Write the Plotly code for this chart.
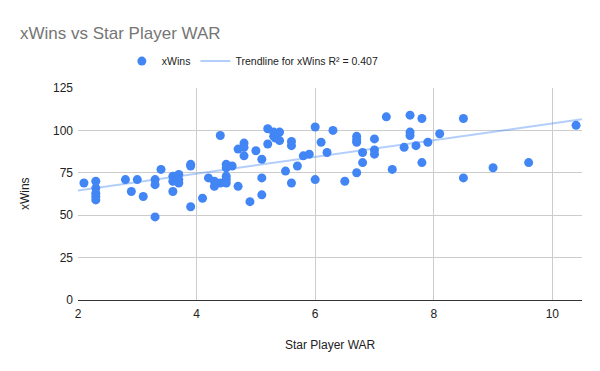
import numpy as np
import plotly.graph_objects as go

war = [2.1, 2.3, 2.3, 2.3, 2.3, 2.3, 2.8, 2.9, 3.0, 3.1, 3.3, 3.3, 3.3, 3.4,
       3.6, 3.6, 3.6, 3.67, 3.7, 3.7, 3.7, 3.9, 3.9, 3.9, 4.1, 4.2, 4.3, 4.3,
       4.4, 4.4, 4.5, 4.5, 4.5, 4.5, 4.5, 4.6, 4.7, 4.7, 4.8, 4.8, 4.8, 4.9,
       5.0, 5.1, 5.1, 5.1, 5.2, 5.2, 5.3, 5.3, 5.33, 5.4, 5.4, 5.5, 5.6, 5.6,
       5.6, 5.7, 5.8, 5.9, 6.0, 6.0, 6.1, 6.2, 6.3, 6.5, 6.7, 6.7, 6.7, 6.7,
       6.8, 6.8, 7.0, 7.0, 7.0, 7.2, 7.3, 7.5, 7.6, 7.6, 7.6, 7.7, 7.8, 7.8,
       7.9, 8.1, 8.5, 8.5, 9.0, 9.6, 10.4]
xwins = [69, 70, 66, 63, 61, 59, 71, 64, 71, 61, 71, 68, 49, 77,
         64, 73, 70, 72, 74, 71, 69, 80, 79, 55, 60, 72, 70, 67,
         97, 69, 80, 78, 73, 71, 69, 79, 89, 67, 92.5, 90, 85, 58,
         88, 83, 72, 62, 101, 92, 99, 96.5, 95.5, 99, 94, 76, 93.5, 91,
         69, 79, 85, 86, 102, 71, 93, 87, 100, 70, 96.5, 94.5, 93, 75,
         87, 81, 95, 88.5, 86, 108, 77, 90, 109, 99, 97, 91, 107, 81,
         93, 98, 107, 72, 78, 81, 103]

x_ticks = [2, 4, 6, 8, 10]
y_ticks = [0, 25, 50, 75, 100, 125]
x_range = [2, 10.5]

slope, intercept = np.polyfit(war, xwins, 1)
tx = np.array(x_range)
ty = slope * tx + intercept

blue = "#4285F4"
fig = go.Figure()
fig.add_trace(go.Scatter(x=war, y=xwins, mode="markers", name="xWins",
                         marker=dict(color=blue, size=9, line=dict(width=0))))
fig.add_trace(go.Scatter(x=tx, y=ty, mode="lines",
                         name="Trendline for xWins R² = 0.407",
                         line=dict(color="rgba(66,133,244,0.4)", width=2)))

txt = "#222222"
fig.update_layout(
    width=600, height=371,
    paper_bgcolor="white", plot_bgcolor="white",
    font=dict(family="Arial, Liberation Sans, sans-serif", size=12, color=txt),
    margin=dict(l=70, r=26, t=80, b=79, autoexpand=False),
    showlegend=True,
    legend=dict(orientation="h", x=0.087, xanchor="left", y=1.127, yanchor="middle",
                font=dict(size=10.5, color=txt), itemwidth=30, tracegroupgap=0),
    xaxis=dict(range=x_range, tickvals=x_ticks, showgrid=True, gridcolor="#cccccc",
               zeroline=False, showline=False, ticks="", automargin=False,
               ticklabelstandoff=5,
               tickfont=dict(size=12, color=txt)),
    yaxis=dict(range=[0, 125], tickvals=y_ticks, showgrid=True, gridcolor="#cccccc",
               zeroline=True, zerolinecolor="#333333", zerolinewidth=1,
               showline=False, ticks="", automargin=False,
               ticklabelstandoff=4,
               tickfont=dict(size=12, color=txt)),
    annotations=[
        dict(text="xWins vs Star Player WAR", xref="paper", yref="paper",
             x=-0.12, y=1.259, xanchor="left", yanchor="middle", showarrow=False,
             font=dict(size=17, color="#757575")),
        dict(text="Star Player WAR", xref="paper", yref="paper",
             x=0.5, y=-0.212, xanchor="center", yanchor="middle", showarrow=False,
             font=dict(size=12, color=txt)),
        dict(text="xWins", xref="paper", yref="paper", textangle=-90,
             x=-0.105, y=0.5, xanchor="center", yanchor="middle", showarrow=False,
             font=dict(size=12, color=txt)),
    ],
)

fig.write_html("out.html")
